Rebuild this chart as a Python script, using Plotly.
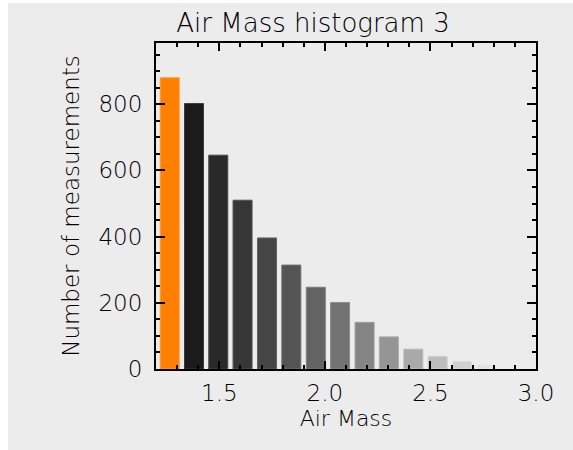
import plotly.graph_objects as go

# Data
air_mass = [1.265, 1.380, 1.495, 1.610, 1.726, 1.841, 1.957, 2.072, 2.188, 2.303, 2.419, 2.534, 2.650, 2.765]
counts = [880, 802, 646, 510, 396, 314, 247, 201, 141, 97, 60, 38, 23, 13]
x_ticks = [1.5, 2.0, 2.5, 3.0]
x_tick_labels = ["1.5", "2.0", "2.5", "3.0"]
y_ticks = [0, 200, 400, 600, 800]
y_tick_labels = ["0", "200", "400", "600", "800"]

# Styling
bar_colors = ["#ff8000", "#1b1b1b", "#292929", "#363636", "#454545", "#545454", "#636363",
              "#727272", "#848484", "#959595", "#a9a9a9", "#bdbdbd", "#cfcfcf", "#e2e2e2"]
line_colors = ["#ff9a33", "#3a3a3a", "#464646", "#525252", "#616161", "#6f6f6f", "#7d7d7d",
               "#8b8b8b", "#9b9b9b", "#aaaaaa", "#bcbcbc", "#cccccc", "#dcdcdc", "#ebebeb"]
FONT = "DejaVu Sans"
WEIGHT = 200
BG = "#ececec"

W, H = 573, 450
L, R, T, B = 156, 37, 43, 81
pw, ph = W - L - R, H - T - B

fig = go.Figure(go.Bar(
    x=air_mass, y=counts, width=0.09,
    marker=dict(color=bar_colors, line=dict(color=line_colors, width=1)),
))

axis_common = dict(
    showline=True, linecolor="black", linewidth=2, mirror="ticks",
    ticks="inside", tickcolor="black", tickwidth=2, showgrid=False, zeroline=False,
    tickfont=dict(family=FONT, size=23, color="#000000", weight=WEIGHT),
)

fig.update_xaxes(
    range=[1.2, 3.0], tickvals=x_ticks, ticktext=x_tick_labels, ticklen=8,
    minor=dict(dtick=0.1, tick0=1.2, ticks="inside", ticklen=4, tickcolor="black", tickwidth=2),
    ticklabelstandoff=2,
    title=dict(text="Air Mass", font=dict(family=FONT, size=22, color="#000000", weight=WEIGHT), standoff=6),
    **axis_common,
)
fig.update_yaxes(
    range=[0, 985], tickvals=y_ticks, ticktext=y_tick_labels, ticklen=9,
    minor=dict(dtick=50, ticks="inside", ticklen=4, tickcolor="black", tickwidth=2),
    ticklabelstandoff=7,
    title=dict(text="Number of measurements", font=dict(family=FONT, size=23, color="#000000", weight=WEIGHT), standoff=12),
    **axis_common,
)

fig.update_layout(
    width=W, height=H, autosize=False,
    margin=dict(l=L, r=R, t=T, b=B, autoexpand=False),
    paper_bgcolor=BG, plot_bgcolor=BG, showlegend=False,
    title=dict(text="Air Mass histogram 3", x=313 / W, xref="container",
               y=1 - 23 / H, yref="container", xanchor="center", yanchor="middle",
               font=dict(family=FONT, size=26, color="#000000", weight=WEIGHT)),
    shapes=[
        dict(type="rect", xref="paper", yref="paper", x0=-L / pw, x1=(8 - L) / pw,
             y0=-B / ph, y1=(H - B) / ph, fillcolor="white", line_width=0, layer="below"),
        dict(type="rect", xref="paper", yref="paper", x0=-L / pw, x1=(W - L) / pw,
             y0=(H - 3 - B) / ph, y1=(H - B) / ph, fillcolor="white", line_width=0, layer="below"),
    ],
)

fig.write_html("out.html")
